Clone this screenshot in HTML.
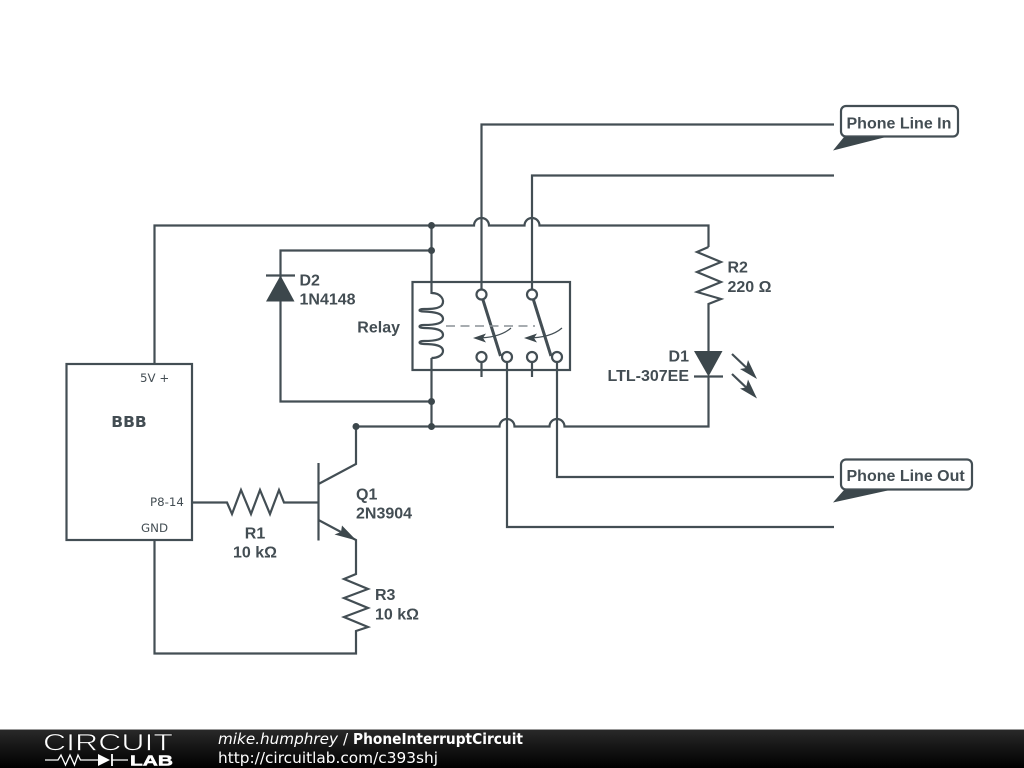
<!DOCTYPE html>
<html>
<head>
<meta charset="utf-8">
<style>
html,body{margin:0;padding:0;background:#fff;width:1024px;height:768px;overflow:hidden}
svg{display:block}
.l{font-family:"Liberation Sans",sans-serif;font-weight:bold;font-size:16px;fill:#434d53}
.d{font-family:"DejaVu Sans",sans-serif;font-size:11.800px;fill:#434d53}
.f{font-family:"DejaVu Sans",sans-serif;font-size:15px;fill:#fff}
</style>
</head>
<body>
<svg width="1024" height="768" viewBox="0 0 1024 768" xmlns="http://www.w3.org/2000/svg">
<defs>
<linearGradient id="g" x1="0" y1="0" x2="0" y2="1"><stop offset="0" stop-color="#2a2a2a"/><stop offset="0.5" stop-color="#141414"/><stop offset="1" stop-color="#000"/></linearGradient>
</defs>
<rect width="1024" height="768" fill="#fff"/>
<g fill="none" stroke="#434e54" stroke-width="2.200">
<!-- top rail -->
<path d="M154.500 364V225.500H474a7.500 7.500 0 0 1 15 0H524.500a7.500 7.500 0 0 1 15 0H708.500V247"/>
<!-- R2 -->
<path d="M708.500 247L697 252L721 262L697 272L721 282L697 292L721 299L708.500 304V351"/>
<path d="M708.500 376V426.500H564.500a7.500 7.500 0 0 0-15 0H514.500a7.500 7.500 0 0 0-15 0H356V464L318.500 484"/>
<path d="M694 376.500H723"/>
<!-- phone lines -->
<path d="M481.500 290V124.500H834"/>
<path d="M532 290V175.500H834"/>
<path d="M557 362V477H834"/>
<path d="M507 362V527H834"/>
<!-- D2 loop -->
<path d="M431.500 225V294"/>
<path d="M431.500 250.500H280.500V401.500H431.500"/>
<path d="M266 275.500H295"/>
<path d="M431.500 358V426.500"/>
<!-- relay box -->
<rect x="412.500" y="282" width="157.500" height="88"/>
<!-- coil -->
<path d="M431.500 293C441 293 445 300 442 305C439 309 430 309 424 309C418 309 418 311.500 424 311.500C434 312 443 313 443 319C443 323 436 325 424 325C418 325 418 328 424 328C434 328 443 329 443 335C443 339 436 341 424 341C418 341 418 344 424 344C434 344 443 345 443 351C443 355 438 358 431.500 358"/>
<!-- contacts -->
<circle cx="481.500" cy="294.500" r="5" fill="#fff"/>
<circle cx="532" cy="294.500" r="5" fill="#fff"/>
<circle cx="481.500" cy="357" r="5" fill="#fff"/>
<circle cx="507" cy="357" r="5" fill="#fff"/>
<circle cx="532" cy="357" r="5" fill="#fff"/>
<circle cx="557" cy="357" r="5" fill="#fff"/>
<path d="M481.500 362V377M532 362V377"/>
<path d="M483 300L500.500 356M533.500 300L551 356" stroke-width="3"/>
<path d="M446 326H535" stroke="#8a9195" stroke-dasharray="9 5.500" stroke-width="1.500"/>
<path d="M511 328C503 335 492 338 476 338M562 328C554 335 543 338 527 338" stroke-width="1.200"/>
<!-- R1 and transistor -->
<path d="M192 502.500H227L232 514L241 490L251 514L260 490L270 514L279 490L284 502.500H318"/>
<path d="M318.500 463V540.500"/>
<path d="M318.500 520L356 540V574L344 579L368 589L344 598L368 608L344 617L368 627L356 631V653.500H154.500V540"/>
<!-- BBB -->
<rect x="66.500" y="364" width="125.500" height="176"/>
<!-- LED arrows -->
<path d="M732 354L752 373M732 374L752 393"/>
<!-- labels -->
<rect x="841" y="106" width="117" height="30.500" rx="5" fill="#fff"/>
<rect x="841" y="459.500" width="131" height="30" rx="5" fill="#fff"/>
</g>
<g fill="#3c474c">
<circle cx="431.500" cy="225.500" r="3.500"/>
<circle cx="431.500" cy="250.500" r="3.500"/>
<circle cx="431.500" cy="401.500" r="3.500"/>
<circle cx="431.500" cy="426.500" r="3.500"/>
<circle cx="356" cy="426.500" r="3.500"/>
<path d="M266 301.500H294.500L280.500 275.500Z"/>
<path d="M694 351H722.500L708.500 376.500Z"/>
<path d="M356.500 540.500L342 525.500L341 532L334.500 534.500Z"/>
<path d="M473 338L486 333.500L483 338L486 342.500Z"/>
<path d="M524 338L537 333.500L534 338L537 342.500Z"/>
<path d="M757 379L740 369L746 368L748 360Z"/>
<path d="M757 398.500L740 388.500L746 387.500L748 379.500Z"/>
<path d="M833 150.500L844 137H886Z"/>
<path d="M833 502.500L844 490H890Z"/>
</g>
<text class="l" x="846.500" y="128.500">Phone Line In</text>
<text class="l" x="846.500" y="481">Phone Line Out</text>
<text class="l" x="727.500" y="272.500">R2</text>
<text class="l" x="727.500" y="292">220 Ω</text>
<text class="l" x="689" y="361.500" text-anchor="end">D1</text>
<text class="l" x="689" y="381" text-anchor="end">LTL-307EE</text>
<text class="l" x="299.500" y="285.500">D2</text>
<text class="l" x="299.500" y="304.500">1N4148</text>
<text class="l" x="400" y="332.500" text-anchor="end">Relay</text>
<text class="l" x="356" y="499.500">Q1</text>
<text class="l" x="356" y="518.500">2N3904</text>
<text class="l" x="255" y="538.500" text-anchor="middle">R1</text>
<text class="l" x="255" y="557.500" text-anchor="middle">10 kΩ</text>
<text class="l" x="375" y="600">R3</text>
<text class="l" x="375" y="619.500">10 kΩ</text>
<text x="129" y="427" text-anchor="middle" font-family="DejaVu Sans, sans-serif" font-weight="bold" font-size="15.500" fill="#434d53">BBB</text>
<text class="d" x="140" y="382">5V +</text>
<text class="d" x="150" y="506">P8-14</text>
<text class="d" x="141" y="532">GND</text>
<!-- footer -->
<rect x="0" y="729" width="1024" height="39" fill="url(#g)"/>
<rect x="0" y="729" width="1024" height="1" fill="#999"/>
<text x="43" y="750.500" font-family="Liberation Sans, sans-serif" font-size="24.500" fill="#fff" stroke="#1a1a1a" stroke-width="0.700" textLength="130" lengthAdjust="spacingAndGlyphs">CIRCUIT</text>
<path d="M45 760H58L61 755L65.500 765L70 755L74.500 765L78 755L80.500 760H98M112 760H128" fill="none" stroke="#fff" stroke-width="1.300"/>
<path d="M98 754L110 760L98 766Z" fill="#fff"/>
<path d="M112 754V766" stroke="#fff" stroke-width="1.800"/>
<text x="130" y="765.500" font-family="Liberation Sans, sans-serif" font-weight="bold" font-size="14.500" fill="#fff" stroke="#fff" stroke-width="0.500" textLength="43" lengthAdjust="spacingAndGlyphs">LAB</text>
<text class="f" x="218" y="744" font-style="italic" textLength="120" lengthAdjust="spacingAndGlyphs">mike.humphrey</text>
<text class="f" x="343" y="744">/</text>
<text class="f" x="353" y="744" font-weight="bold" textLength="170" lengthAdjust="spacingAndGlyphs">PhoneInterruptCircuit</text>
<text class="f" x="218" y="763" textLength="220" lengthAdjust="spacingAndGlyphs">http://circuitlab.com/c393shj</text>
</svg>
</body>
</html>
